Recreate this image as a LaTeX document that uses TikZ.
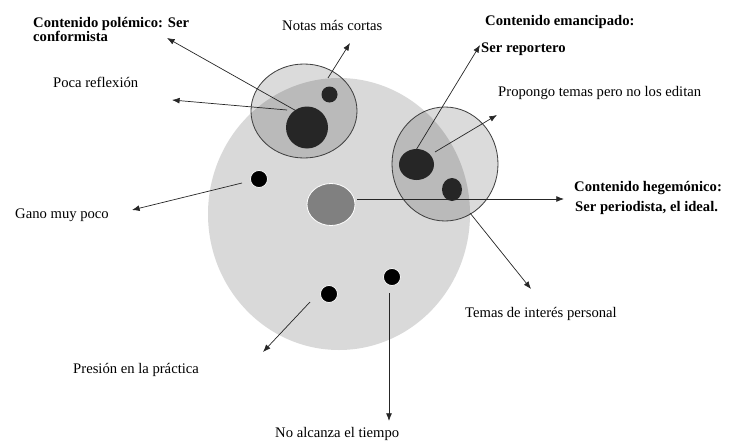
\documentclass[tikz,border=0pt]{standalone}
\usepackage{fontspec}
\setmainfont{Liberation Serif}
\usetikzlibrary{arrows.meta}
\tikzset{
  lbl/.style={font=\fontsize{12.5}{13}\selectfont, inner sep=0pt, anchor=base west},
  blbl/.style={lbl, font=\fontsize{12.5}{13}\selectfont\bfseries},
  conn/.style={draw=black!85, line width=0.6pt, -{Latex[length=6.5pt,width=5pt]}},
  ring/.style={draw=black!75, line width=0.7pt, fill=black, fill opacity=0.14, text opacity=1},
  dark/.style={fill=black!85, draw=none},
  dot/.style={fill=black, draw=white, line width=0.6pt},
}
\begin{document}
\begin{tikzpicture}[x=0.03cm, y=-0.03cm]
\useasboundingbox (0,0) rectangle (750,447);
% big circle
\fill[black!15] (339,214) ellipse [x radius=131, y radius=136];
% rings
\filldraw[ring] (304,111) ellipse [x radius=53, y radius=47];
\filldraw[ring] (445,164) ellipse [x radius=53, y radius=57];
% inner shapes
\fill[dark] (307,127.5) circle [radius=21];
\fill[dark] (329.5,94.5) circle [radius=8];
\fill[dark] (416.5,164.5) ellipse [x radius=17.5, y radius=15.5];
\fill[dark] (452,189.5) ellipse [x radius=10, y radius=11.5];
\filldraw[fill=black!50, draw=white, line width=0.7pt] (331,204.5) ellipse [x radius=24, y radius=21];
\filldraw[dot] (259,179) circle [radius=8.5];
\filldraw[dot] (329,294) circle [radius=8.5];
\filldraw[dot] (392,277) circle [radius=8.5];

% labels
\node[blbl] (pol1) at (33,27) {Contenido polémico: Ser};
\node[blbl] (pol2) at (33,42) {conformista};
\node[lbl] (notas) at (282,30) {Notas más cortas};
\node[lbl] (poca) at (53,87) {Poca reflexión};
\node[lbl] (gano) at (15,218) {Gano muy poco};
\node[blbl] (eman) at (485,25) {Contenido emancipado:};
\node[blbl] (rep) at (481,53) {Ser reportero};
\node[lbl] (prop) at (498,96) {Propongo temas pero no los editan};
\node[blbl] (heg1) at (574,191) {Contenido hegemónico:};
\node[blbl] (heg2) at (575,211) {Ser periodista, el ideal.};
\node[lbl] (temas) at (465,317) {Temas de interés personal};
\node[lbl] (pres) at (73,373) {Presión en la práctica};
\node[lbl] (alc) at (275,437) {No alcanza el tiempo};

% connector ends
\coordinate (s1) at (300,113); \coordinate (t1) at (167,38);
\coordinate (s2) at (287,110); \coordinate (t2) at (172,100);
\coordinate (s3) at (328,78);  \coordinate (t3) at (350,43);
\coordinate (s4) at (242,183); \coordinate (t4) at (132,210);
\coordinate (s5) at (413,155); \coordinate (t5) at (480,45);
\coordinate (s6) at (435,152); \coordinate (t6) at (497,115);
\coordinate (s7) at (357,199); \coordinate (t7) at (564,199);
\coordinate (s8) at (470,213); \coordinate (t8) at (531,289);
\coordinate (s9) at (310,302); \coordinate (t9) at (263,352);
\coordinate (s10) at (389,293); \coordinate (t10) at (389,421);

\draw[conn] (s1) -- (t1);
\draw[conn] (s2) -- (t2);
\draw[conn] (s3) -- (t3);
\draw[conn] (s4) -- (t4);
\draw[conn] (s5) -- (t5);
\draw[conn] (s6) -- (t6);
\draw[conn] (s7) -- (t7);
\draw[conn] (s8) -- (t8);
\draw[conn] (s9) -- (t9);
\draw[conn] (s10) -- (t10);
\end{tikzpicture}
\end{document}
